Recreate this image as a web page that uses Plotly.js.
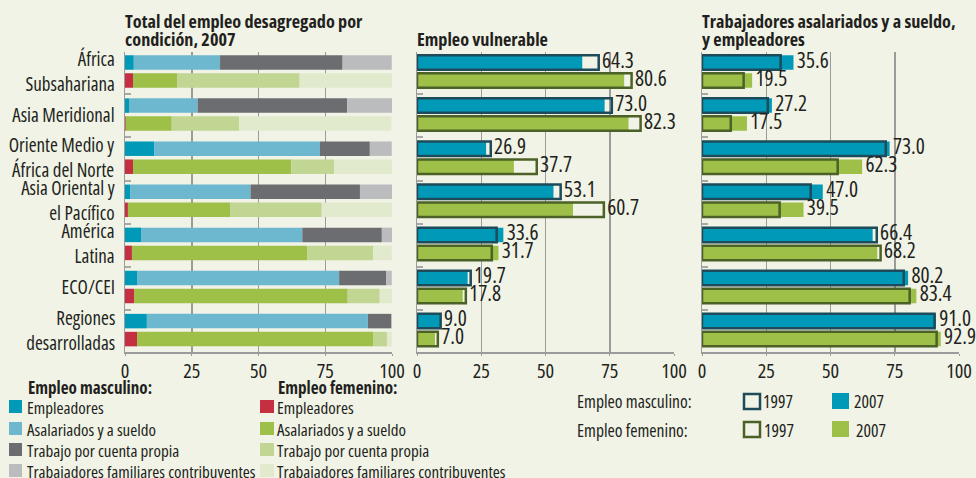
<!DOCTYPE html>
<html>
<head>
<meta charset="utf-8">
<script src="https://cdn.plot.ly/plotly-3.0.1.min.js"></script>
<style>html,body{margin:0;padding:0;background:#f0f3e6;}#chart{width:976px;height:478px;}</style>
</head>
<body>
<div id="chart"></div>
<script>
// ---------------- DATA ----------------
const regions = ["África<br>Subsahariana", "Asia Meridional", "Oriente Medio y<br>África del Norte", "Asia Oriental y<br>el Pacífico", "América<br>Latina", "ECO/CEI", "Regiones<br>desarrolladas"];
const xTicks = [0, 25, 50, 75, 100];

// Panel 1: total employment by status, 2007 (%)
const maleEmpleadores   = [3.3, 1.5, 10.9, 1.9, 6.0, 4.5, 8.2];
const maleAsalariados   = [32.3, 25.7, 62.1, 45.1, 60.4, 75.7, 82.8];
const malePropia        = [45.9, 56.0, 18.7, 41.0, 29.8, 17.7, 8.7];
const maleFamiliares    = [18.4, 17.0, 8.2, 12.1, 3.8, 2.0, 0.3];
const femaleEmpleadores = [3.0, 0.3, 3.0, 1.1, 2.6, 3.4, 4.5];
const femaleAsalariados = [16.5, 17.2, 59.3, 38.4, 65.6, 80.0, 88.4];
const femalePropia      = [45.9, 25.3, 16.1, 34.2, 24.8, 12.0, 5.2];
const femaleFamiliares  = [34.7, 57.0, 21.6, 26.5, 6.9, 5.8, 1.8];

// Panel 2: vulnerable employment (%)
const vulnMale1997   = [70.7, 75.8, 28.7, 55.9, 31.0, 20.9, 9.2];
const vulnMale2007   = [64.3, 73.0, 26.9, 53.1, 33.6, 19.7, 9.0];
const vulnFemale1997 = [83.5, 87.0, 46.6, 72.7, 29.1, 19.0, 8.1];
const vulnFemale2007 = [80.6, 82.3, 37.7, 60.7, 31.7, 17.8, 7.0];

// Panel 3: wage and salaried workers, and employers (%)
const salMale1997   = [30.6, 25.6, 71.5, 42.3, 68.0, 78.5, 90.5];
const salMale2007   = [35.6, 27.2, 73.0, 47.0, 66.4, 80.2, 91.0];
const salFemale1997 = [16.2, 11.2, 52.8, 30.2, 69.5, 80.8, 91.3];
const salFemale2007 = [19.5, 17.5, 62.3, 39.5, 68.2, 83.4, 92.9];

// ---------------- FONT PICK (narrowest available) ----------------
const SAMPLE = "Trabajadores familiares contribuyentes";
const cv = document.createElement("canvas").getContext("2d");
function mw(fam, st) { cv.font = st + " 16px " + fam; return cv.measureText(SAMPLE).width; }
const cands = [
  {fam: "'Liberation Sans Narrow'", st: "normal"},
  {fam: "'Arial Narrow'", st: "normal"},
  {fam: "'Roboto Condensed'", st: "normal"},
  {fam: "'Open Sans'", st: "condensed"},
  {fam: "Roboto", st: "condensed"},
  {fam: "'Noto Sans'", st: "condensed"},
  {fam: "'DejaVu Sans Condensed'", st: "normal"},
  {fam: "'DejaVu Sans'", st: "condensed"},
  {fam: "'Liberation Sans'", st: "normal"}
];
let best = {fam: "'Liberation Sans'", st: "normal", w: 275};
cands.forEach(c => {
  const wMono = mw("monospace", c.st), wF = mw(c.fam + ", monospace", c.st);
  if (Math.abs(wF - wMono) < 0.5) return;
  if (c.st !== "normal" && mw(c.fam + ", monospace", "normal") * 0.95 < wF) return;
  if (wF < best.w) best = {fam: c.fam, st: c.st, w: wF};
});
if (best.st !== "normal") {
  const s = document.createElement("style");
  s.textContent = "#chart text{font-stretch:" + best.st + " !important;}";
  document.head.appendChild(s);
}
const K = Math.max(0.82, Math.min(1.06, 223 / best.w));
const FONT = best.fam + ", 'Liberation Sans', sans-serif";
const fs = v => Math.round(v * K * 10) / 10;

// ---------------- STYLE ----------------
const W = 976, H = 478;
const BG = "#f0f3e6";
const TXT = "#231f20";
const C = {
  mEmp: "#009ab8", mAsal: "#6db8cf", mProp: "#6c6d70", mFam: "#bbbcbe",
  fEmp: "#c52f41", fAsal: "#9ebf48", fProp: "#c1d693", fFam: "#e1eacd",
  mLine: "#1d4b5a", fLine: "#4b6127", grid: "#9b9b9b"
};
const px = v => v / W;
const py = v => 1 - v / H;
const LABEL_GAP = 1.3; // axis units between bar end and its value label

const panels = [[125, 392], [417, 674], [702, 959]];
const plotTop = 52, plotBot = 352, firstCenter = 62.5, pitch = 43.1;
const femOff = 18 / pitch, barW = 14.5 / pitch;

const idx = regions.map((_, i) => i);
const yM = idx.map(i => i);
const yF = idx.map(i => i + femOff);

function cum(arrs, k) { return idx.map(i => arrs.slice(0, k).reduce((s, a) => s + a[i], 0)); }

const traces = [];
function stack(arrs, colors, ys) {
  arrs.forEach((a, k) => {
    traces.push({type: "bar", orientation: "h", x: a, y: ys, base: cum(arrs, k), width: barW,
      marker: {color: colors[k], line: {width: 0}}, xaxis: "x", yaxis: "y", cliponaxis: false,
      hoverinfo: "skip", showlegend: false});
  });
}
stack([maleEmpleadores, maleAsalariados, malePropia, maleFamiliares], [C.mEmp, C.mAsal, C.mProp, C.mFam], yM);
stack([femaleEmpleadores, femaleAsalariados, femalePropia, femaleFamiliares], [C.fEmp, C.fAsal, C.fProp, C.fFam], yF);

function pair(v97, v07, ys, fill, line, xa, ya) {
  traces.push({type: "bar", orientation: "h", x: v07, y: ys, width: barW, marker: {color: fill, line: {width: 0}},
    xaxis: xa, yaxis: ya, hoverinfo: "skip", showlegend: false, cliponaxis: false});
  traces.push({type: "bar", orientation: "h", x: v97, y: ys, width: barW,
    marker: {color: "rgba(0,0,0,0)", line: {width: 2.5, color: line}},
    xaxis: xa, yaxis: ya, hoverinfo: "skip", showlegend: false, cliponaxis: false});
  traces.push({type: "scatter", mode: "text", x: idx.map(i => Math.max(v97[i], v07[i]) + LABEL_GAP), y: ys,
    text: v07.map(v => v.toFixed(1)), textposition: "middle right",
    textfont: {family: FONT, size: fs(20.5), color: TXT}, xaxis: xa, yaxis: ya, hoverinfo: "skip",
    showlegend: false, cliponaxis: false});
}
pair(vulnMale1997, vulnMale2007, yM, C.mEmp, C.mLine, "x2", "y2");
pair(vulnFemale1997, vulnFemale2007, yF, C.fAsal, C.fLine, "x2", "y2");
pair(salMale1997, salMale2007, yM, C.mEmp, C.mLine, "x3", "y3");
pair(salFemale1997, salFemale2007, yF, C.fAsal, C.fLine, "x3", "y3");

const yRange = [(plotBot - firstCenter) / pitch, -(firstCenter - plotTop) / pitch];
const dashVals = idx.slice(0, -1).map(i => i + 0.74);

function xAxis(k, anchor) {
  return {domain: [px(panels[k][0]), px(panels[k][1])], range: [0, 100], anchor: anchor,
    tickvals: xTicks, ticktext: xTicks.map(String), showgrid: true, gridcolor: C.grid, gridwidth: 1.5,
    showline: true, linecolor: C.grid, linewidth: 1.5, zeroline: false, ticks: "outside", ticklen: 2,
    ticklabelstandoff: -2, ticklabeloverflow: "allow",
    tickcolor: C.grid, tickfont: {family: FONT, size: fs(19.5), color: TXT}, fixedrange: true};
}
function yAxis(anchor) {
  return {domain: [py(plotBot), py(plotTop)], range: yRange, anchor: anchor, tickvals: dashVals,
    showticklabels: false, ticks: "inside", ticklen: 6, tickwidth: 2, tickcolor: "#a8a8a8",
    showgrid: false, zeroline: false, showline: true, linecolor: C.grid, linewidth: 1.5, fixedrange: true};
}

const ann = [];
const shapes = [];
function text(t, x, y, opts) {
  ann.push(Object.assign({text: t, xref: "paper", yref: "paper", x: px(x), y: py(y), showarrow: false,
    xanchor: "left", yanchor: "middle", align: "left", font: {family: FONT, size: fs(16.4), color: TXT}}, opts || {}));
}
const TB = {family: FONT, size: fs(17.5), color: TXT, weight: "bold"};
const LB = {family: FONT, size: fs(16.5), color: TXT, weight: "bold"};
text("<b>Total del empleo desagregado por</b>", 123, 21, {font: TB});
text("<b>condición, 2007</b>", 123, 38.5, {font: TB});
text("<b>Empleo vulnerable</b>", 415, 38.5, {font: TB});
text("<b>Trabajadores asalariados y a sueldo,</b>", 700, 21, {font: TB});
text("<b>y empleadores</b>", 700, 38.5, {font: TB});

regions.forEach((r, i) => {
  ann.push({text: r, xref: "paper", yref: "y", x: px(117), y: i + femOff / 2, xanchor: "right", yanchor: "middle",
    align: "right", showarrow: false, font: {family: FONT, size: fs(18.3), color: TXT}});
});

function swatch(x0, y0, x1, y1, fill, line) {
  shapes.push({type: "rect", xref: "paper", yref: "paper", x0: px(x0), x1: px(x1), y0: py(y1), y1: py(y0),
    fillcolor: fill, line: line ? {color: line, width: 2.5} : {width: 0}});
}
const legRows = [407, 429, 450, 471];
const mLeg = [["Empleadores", C.mEmp], ["Asalariados y a sueldo", C.mAsal], ["Trabajo por cuenta propia", C.mProp], ["Trabajadores familiares contribuyentes", C.mFam]];
const fLeg = [["Empleadores", C.fEmp], ["Asalariados y a sueldo", C.fAsal], ["Trabajo por cuenta propia", C.fProp], ["Trabajadores familiares contribuyentes", C.fFam]];
text("<b>Empleo masculino:</b>", 26, 387, {font: LB});
text("<b>Empleo femenino:</b>", 276, 387, {font: LB});
mLeg.forEach((e, k) => { swatch(9, legRows[k] - 7, 22, legRows[k] + 6, e[1]); text(e[0], 25, legRows[k]); });
fLeg.forEach((e, k) => { swatch(260, legRows[k] - 7, 274, legRows[k] + 6, e[1]); text(e[0], 275, legRows[k]); });

const RL = {family: FONT, size: fs(17), color: TXT};
text("Empleo masculino:", 575, 401, {font: RL});
text("Empleo femenino:", 575, 430, {font: RL});
swatch(744, 394, 760, 409, "rgba(0,0,0,0)", C.mLine);
swatch(744, 422, 760, 437, "rgba(0,0,0,0)", C.fLine);
swatch(832, 393, 849, 409, C.mEmp);
swatch(832, 421, 849, 437, C.fAsal);
text("1997", 761, 401, {font: RL}); text("2007", 852, 401, {font: RL});
text("1997", 762, 430, {font: RL}); text("2007", 854, 430, {font: RL});

const layout = {
  width: W, height: H, margin: {l: 0, r: 0, t: 0, b: 0},
  paper_bgcolor: BG, plot_bgcolor: BG, barmode: "overlay", showlegend: false,
  xaxis: xAxis(0, "y"), yaxis: yAxis("x"),
  xaxis2: xAxis(1, "y2"), yaxis2: yAxis("x2"),
  xaxis3: xAxis(2, "y3"), yaxis3: yAxis("x3"),
  annotations: ann, shapes: shapes, font: {family: FONT, color: TXT}
};
Plotly.newPlot("chart", traces, layout, {staticPlot: true, displayModeBar: false});
</script>
</body>
</html>
